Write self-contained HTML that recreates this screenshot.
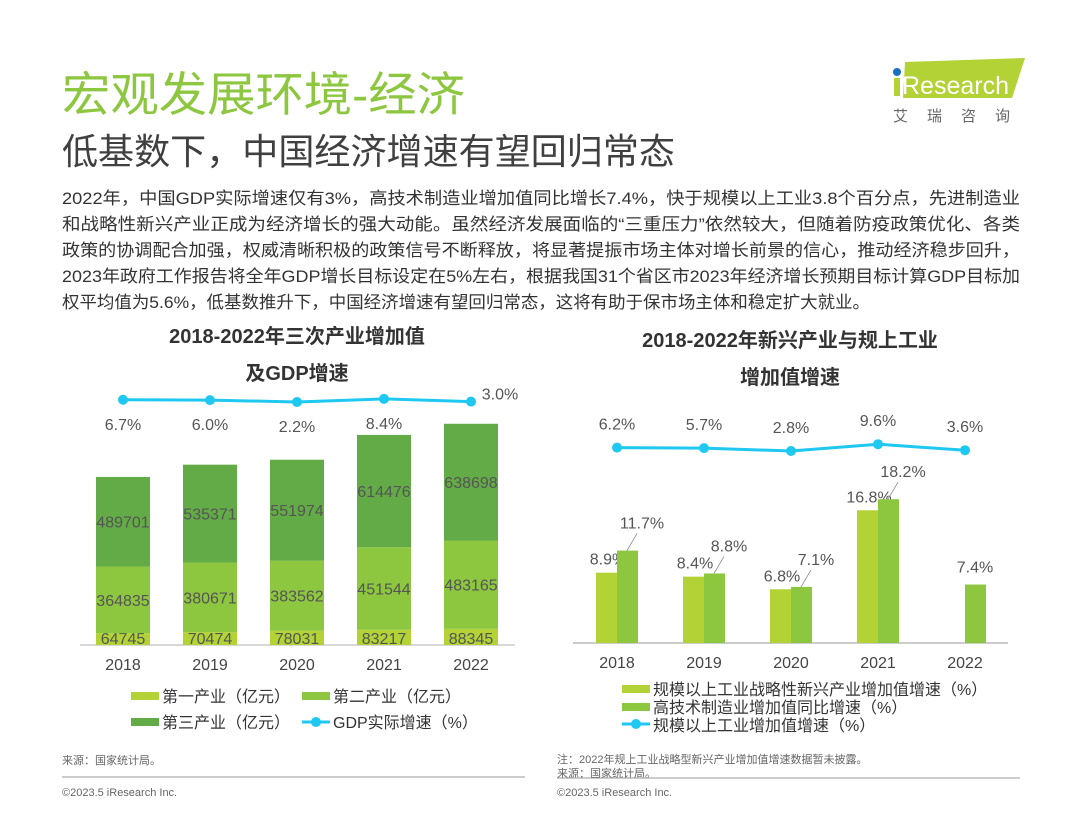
<!DOCTYPE html>
<html><head><meta charset="utf-8"><style>
body{margin:0;width:1080px;height:810px;background:#fff;overflow:hidden;font-family:"Liberation Sans","Noto Sans CJK SC",sans-serif;}
</style></head><body>
<svg id="s" width="1080" height="810" viewBox="0 0 1080 810" xmlns="http://www.w3.org/2000/svg" font-family="Liberation Sans, Noto Sans CJK SC, sans-serif">
<text x="62" y="111" font-size="42" fill="#8dc63f" textLength="403" lengthAdjust="spacingAndGlyphs" style="font-size:47px">宏观发展环境-经济</text>
<text x="62" y="164" font-size="36" fill="#404040" textLength="613" lengthAdjust="spacingAndGlyphs">低基数下，中国经济增速有望回归常态</text>
<g>
<polygon points="905,62 1025,58 1012,98 903,98" fill="#b3d235"/>
<circle cx="897" cy="72" r="4" fill="#1a6fc0"/>
<rect x="894" y="78" width="6" height="18" fill="#b3d235"/>
<text x="902" y="94" font-size="25" fill="#fff">Research</text>
<text x="893" y="121" font-size="15" fill="#666" letter-spacing="19">艾瑞咨询</text>
</g>
<g font-size="17" fill="#333">
<text x="62" y="204" textLength="958" lengthAdjust="spacingAndGlyphs">2022年，中国GDP实际增速仅有3%，高技术制造业增加值同比增长7.4%，快于规模以上工业3.8个百分点，先进制造业</text>
<text x="62" y="230" textLength="958" lengthAdjust="spacingAndGlyphs">和战略性新兴产业正成为经济增长的强大动能。虽然经济发展面临的“三重压力”依然较大，但随着防疫政策优化、各类</text>
<text x="62" y="256" textLength="958" lengthAdjust="spacingAndGlyphs">政策的协调配合加强，权威清晰积极的政策信号不断释放，将显著提振市场主体对增长前景的信心，推动经济稳步回升，</text>
<text x="62" y="282" textLength="958" lengthAdjust="spacingAndGlyphs">2023年政府工作报告将全年GDP增长目标设定在5%左右，根据我国31个省区市2023年经济增长预期目标计算GDP目标加</text>
<text x="62" y="308" textLength="808" lengthAdjust="spacingAndGlyphs">权平均值为5.6%，低基数推升下，中国经济增速有望回归常态，这将有助于保市场主体和稳定扩大就业。</text>
</g>
<text x="297" y="343" font-size="20" font-weight="bold" fill="#333" text-anchor="middle">2018-2022年三次产业增加值</text>
<text x="297" y="380" font-size="20" font-weight="bold" fill="#333" text-anchor="middle">及GDP增速</text>
<text x="790" y="347" font-size="20" font-weight="bold" fill="#333" text-anchor="middle">2018-2022年新兴产业与规上工业</text>
<text x="790" y="384" font-size="20" font-weight="bold" fill="#333" text-anchor="middle">增加值增速</text>
<g id="left"></g><g id="right"></g>
<g font-size="16" fill="#333">
<rect x="131" y="692" width="28" height="8" fill="#b3d235"/>
<text x="162" y="702">第一产业（亿元）</text>
<rect x="302" y="692" width="28" height="8" fill="#8dc63f"/>
<text x="333" y="702">第二产业（亿元）</text>
<rect x="131" y="718" width="28" height="8" fill="#62ab46"/>
<text x="162" y="728">第三产业（亿元）</text>
<line x1="302" y1="722" x2="330" y2="722" stroke="#1ec8f0" stroke-width="3"/><circle cx="316" cy="722" r="5" fill="#1ec8f0"/>
<text x="333" y="728">GDP实际增速（%）</text>
<rect x="622" y="685" width="28" height="8" fill="#b3d235"/>
<text x="653" y="695">规模以上工业战略性新兴产业增加值增速（%）</text>
<rect x="622" y="703" width="28" height="8" fill="#8dc63f"/>
<text x="653" y="713">高技术制造业增加值同比增速（%）</text>
<line x1="622" y1="724" x2="650" y2="724" stroke="#1ec8f0" stroke-width="3"/><circle cx="636" cy="724" r="5" fill="#1ec8f0"/>
<text x="653" y="731">规模以上工业增加值增速（%）</text>
</g>
<g font-size="11" fill="#666">
<text x="62" y="764">来源：国家统计局。</text>
<text x="557" y="763">注：2022年规上工业战略型新兴产业增加值增速数据暂未披露。</text>
<text x="557" y="777">来源：国家统计局。</text>
<line x1="62" y1="777" x2="525" y2="777" stroke="#999"/>
<line x1="557" y1="778" x2="1020" y2="778" stroke="#999"/>
<text x="62" y="796">©2023.5 iResearch Inc.</text>
<text x="557" y="796">©2023.5 iResearch Inc.</text>
</g>
</svg>
<script>
const years=["2018","2019","2020","2021","2022"];
const primary=[64745,70474,78031,83217,88345];
const secondary=[364835,380671,383562,451544,483165];
const tertiary=[489701,535371,551974,614476,638698];
const gdpGrowth=[6.7,6.0,2.2,8.4,3.0];
const emerging=[8.9,8.4,6.8,16.8,null];
const hightech=[11.7,8.8,7.1,18.2,7.4];
const industry=[6.2,5.7,2.8,9.6,3.6];
const NS="http://www.w3.org/2000/svg";
function mk(p,t,a){const e=document.createElementNS(NS,t);for(const k in a)e.setAttribute(k,a[k]);p.appendChild(e);return e;}
// left chart
const L=document.getElementById('left');
const lx=i=>123+i*87, base=645, ly=v=>base-v*0.0001828, gy=v=>402-(v-2.2)*0.5;
let ax=mk(L,'line',{x1:80,y1:base,x2:515,y2:base,stroke:'#ccc','stroke-width':1.5});


const cols=['#b3d235','#8dc63f','#62ab46'],names=['primary','secondary','tertiary'];
years.forEach((y,i)=>{
 const vals=[primary[i],secondary[i],tertiary[i]];let acc=0;
 vals.forEach((v,k)=>{
  const y0=ly(acc),y1=ly(acc+v);acc+=v;
  const r=mk(L,'rect',{x:lx(i)-27,y:y1,width:54,height:y0-y1,fill:cols[k]});
  
  
  const t=mk(L,'text',{x:lx(i),y:k==0?y0-1:(y0+y1)/2+6,'font-size':16,fill:'#555','text-anchor':'middle'});t.textContent=v;
  
  
 });
 const xl=mk(L,'text',{x:lx(i),y:670,'font-size':16,fill:'#444','text-anchor':'middle'});xl.textContent=y;
 
 
});
let pl=mk(L,'polyline',{points:gdpGrowth.map((v,i)=>lx(i)+','+gy(v)).join(' '),fill:'none',stroke:'#1ec8f0','stroke-width':3});


gdpGrowth.forEach((v,i)=>{
 const c=mk(L,'circle',{cx:lx(i),cy:gy(v),r:5,fill:'#1ec8f0'});
 
 
 const last=i==4;
 const t=mk(L,'text',{x:last?lx(i)+29:lx(i),y:last?gy(v)-2:gy(v)+30,'font-size':16,fill:'#555','text-anchor':'middle'});t.textContent=v.toFixed(1)+'%';
 
 
});
// right chart
const R=document.getElementById('right');
const rx=i=>617+i*87, rb=643, ry=v=>rb-v*7.9, iy=v=>453.8-v*1.0;
ax=mk(R,'line',{x1:573,y1:rb,x2:1008,y2:rb,stroke:'#999','stroke-width':1});


years.forEach((y,i)=>{
 if(emerging[i]!=null){
  const r=mk(R,'rect',{x:rx(i)-21,y:ry(emerging[i]),width:21,height:rb-ry(emerging[i]),fill:'#b3d235'});
  
  
  const t=mk(R,'text',{x:rx(i)-9,y:ry(emerging[i])-8,'font-size':16,fill:'#555','text-anchor':'middle'});t.textContent=emerging[i].toFixed(1)+'%';
  
  
 }
 const h=hightech[i];
 const r=mk(R,'rect',{x:rx(i),y:ry(h),width:21,height:rb-ry(h),fill:'#8dc63f'});
 
 
 const lead=emerging[i]!=null;
 if(lead){const ln=mk(R,'line',{x1:rx(i)+10,y1:ry(h),x2:rx(i)+20,y2:ry(h)-17,stroke:'#888','stroke-width':0.8});
  
  }
 const t=mk(R,'text',{x:lead?rx(i)+25:rx(i)+10,y:lead?ry(h)-22:ry(h)-12,'font-size':16,fill:'#555','text-anchor':'middle'});t.textContent=h.toFixed(1)+'%';
 
 
 const xl=mk(R,'text',{x:rx(i),y:668,'font-size':16,fill:'#444','text-anchor':'middle'});xl.textContent=y;
 
 
});
pl=mk(R,'polyline',{points:industry.map((v,i)=>rx(i)+','+iy(v)).join(' '),fill:'none',stroke:'#1ec8f0','stroke-width':3});


industry.forEach((v,i)=>{
 const c=mk(R,'circle',{cx:rx(i),cy:iy(v),r:5,fill:'#1ec8f0'});
 
 
 const t=mk(R,'text',{x:rx(i),y:iy(v)-18,'font-size':16,fill:'#555','text-anchor':'middle'});t.textContent=v.toFixed(1)+'%';
 
 
});
</script>
</body></html>
